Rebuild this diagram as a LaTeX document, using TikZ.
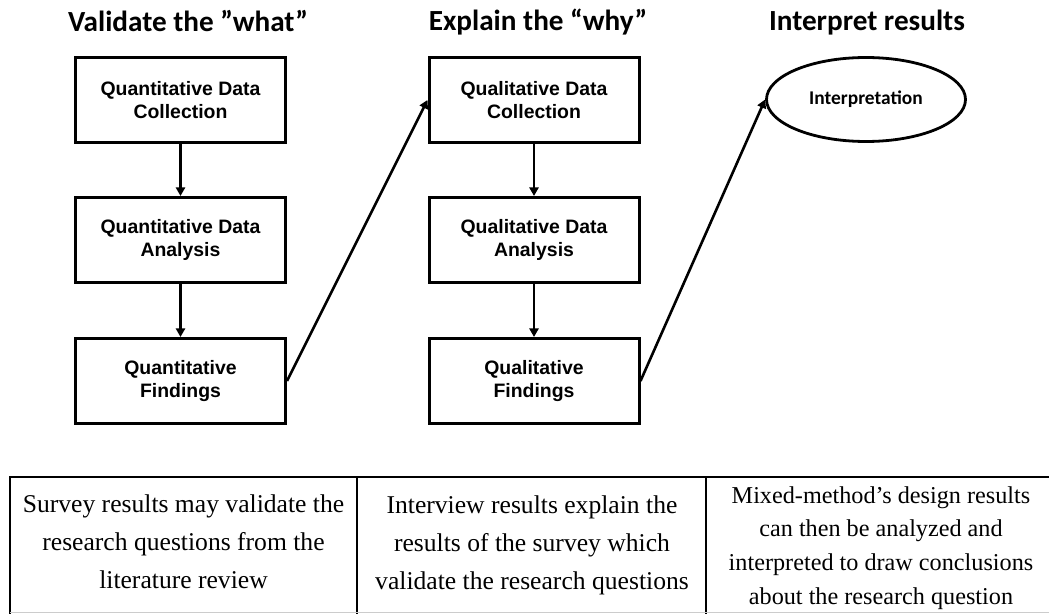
\documentclass[tikz,border=0pt]{standalone}
\usepackage{fontspec}
\setmainfont{Liberation Serif}
\newfontfamily\headfont{Carlito}
\newfontfamily\boxfont{Liberation Sans}
\usetikzlibrary{shapes.geometric,arrows.meta}
\begin{document}
\begin{tikzpicture}[x=1bp,y=-1bp,
  heading/.style={font=\headfont\bfseries\fontsize{29.3}{34}\selectfont, anchor=base, inner sep=0pt},
  stepbox/.style={draw, line width=3bp, minimum width=210bp, minimum height=85bp,
    inner sep=0pt, align=center, font=\boxfont\bfseries\fontsize{19.5}{23}\selectfont},
  resultoval/.style={draw, ellipse, line width=2.8bp, minimum width=199bp, minimum height=84bp,
    inner sep=0pt, font=\headfont\bfseries\fontsize{19.5}{23}\selectfont},
  flow/.style={line width=2.6bp, -{Triangle[length=8.5bp,width=9bp]}},
  rule/.style={line width=2.4bp},
  cell/.style={align=center, inner sep=0pt, font=\fontsize{25.7}{38}\selectfont},
  cellx/.style={align=center, inner sep=0pt, font=\fontsize{24.3}{34}\selectfont}]
\useasboundingbox (0,0) rectangle (1049,614);

% column headings
\node[heading] (h1) at (188,32) {Validate the ”what”};
\node[heading] (h2) at (538,31) {Explain the “why”};
\node[heading] (h3) at (867,31) {Interpret results};

% quantitative strand
\node[stepbox] (qn1) at (180.5,100) {Quantitative Data\\Collection};
\node[stepbox] (qn2) at (180.5,240) {Quantitative Data\\Analysis};
\node[stepbox] (qn3) at (180.5,381) {Quantitative\\Findings};

% qualitative strand
\node[stepbox] (ql1) at (534,100) {Qualitative Data\\Collection};
\node[stepbox] (ql2) at (534,240) {Qualitative Data\\Analysis};
\node[stepbox] (ql3) at (534,381) {Qualitative\\Findings};

% interpretation
\node[resultoval] (int) at (866,99.5) {Interpretation};

\draw[flow] (qn1) -- (qn2);
\draw[flow] (qn2) -- (qn3);
\draw[flow] (ql1) -- (ql2);
\draw[flow] (ql2) -- (ql3);
\draw[flow] (qn3.east) -- (ql1.west);
\draw[flow] (ql3.east) -- (int.west);

% summary table
\draw[rule] (10,477) -- (1049,477);
\draw[rule] (10,476) -- (10,614);
\draw[rule] (357,477) -- (357,614);
\draw[rule] (706,477) -- (706,614);
\draw[line width=1bp, black!20] (10,612.5) -- (1049,612.5);

\node[cell] (t1) at (183.5,541.5) {Survey results may validate the\\
  research questions from the\\literature review};
\node[cell] (t2) at (532,545) {Interview results explain the\\
  results of the survey which\\validate the research questions};
\node[cellx] (t3) at (881,548) {Mixed-method’s design results\\can then be analyzed and\\
  interpreted to draw conclusions\\about the research question};
\end{tikzpicture}
\end{document}
